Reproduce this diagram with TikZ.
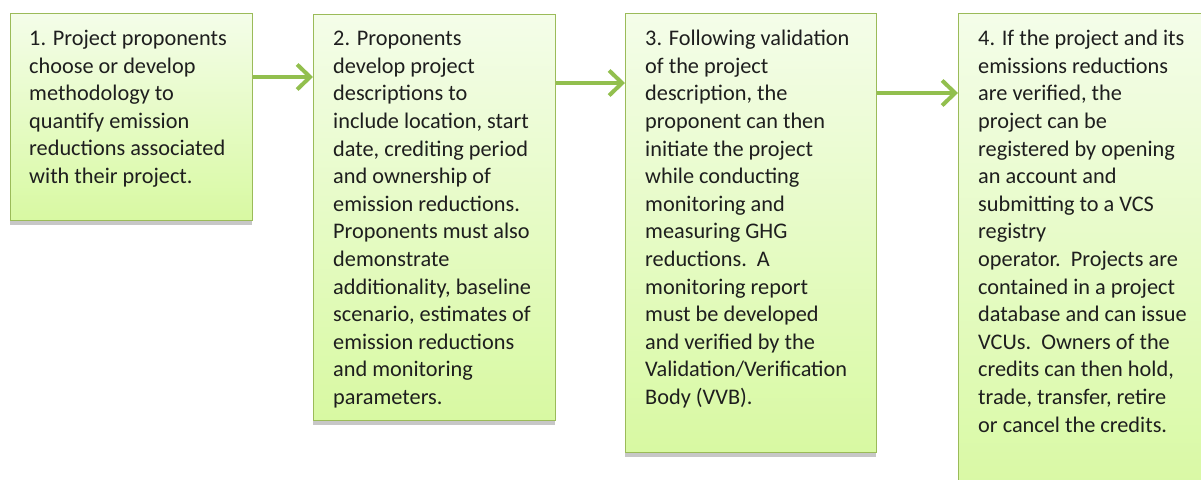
\documentclass[tikz,border=0pt]{standalone}
\usepackage{fontspec}
\setmainfont{Carlito}
\usetikzlibrary{arrows.meta,shadows}
\definecolor{boxedge}{HTML}{9BBB59}
\definecolor{boxtop}{HTML}{F4FDE9}
\definecolor{boxbot}{HTML}{D8F9A2}
\definecolor{arrowgreen}{HTML}{92BF4E}
\definecolor{inktext}{HTML}{1E1E1E}
\tikzset{
  stepbox/.style={draw=boxedge, line width=1.4pt, top color=boxtop, bottom color=boxbot,
    anchor=north west, inner sep=0pt,
    drop shadow={shadow xshift=-1pt, shadow yshift=-4pt, fill=black!22, opacity=1}},
  steptext/.style={anchor=north west, align=left, inner sep=0pt, text=inktext,
    font=\fontsize{22.3}{27.6}\selectfont},
  flow/.style={draw=arrowgreen, line width=4pt,
    -{Straight Barb[length=13pt,width=25pt,line width=4pt]}}
}
\begin{document}
\begin{tikzpicture}[x=1pt,y=-1pt]
\useasboundingbox (0,0) rectangle (1201,479);
\clip (0,0) rectangle (1201,479);

% the four steps
\node[stepbox, minimum width=242pt, minimum height=207pt] (b1) at (10,13) {};
\node[stepbox, minimum width=242pt, minimum height=406pt] (b2) at (313,14) {};
\node[stepbox, minimum width=251pt, minimum height=439pt] (b3) at (625,13) {};
\node[stepbox, minimum width=260pt, minimum height=490pt] (b4) at (958,13) {};

\node[steptext] (t1) at ([xshift=19pt,yshift=-17pt]b1.north west) {1. Project proponents\\
choose or develop\\
methodology to\\
quantify emission\\
reductions associated\\
with their project.};

\node[steptext] (t2) at ([xshift=20pt,yshift=-17pt]b2.north west) {2. Proponents\\
develop project\\
descriptions to\\
include location, start\\
date, crediting period\\
and ownership of\\
emission reductions.\\
Proponents must also\\
demonstrate\\
additionality, baseline\\
scenario, estimates of\\
emission reductions\\
and monitoring\\
parameters.};

\node[steptext] (t3) at ([xshift=20pt,yshift=-17pt]b3.north west) {3. Following validation\\
of the project\\
description, the\\
proponent can then\\
initiate the project\\
while conducting\\
monitoring and\\
measuring GHG\\
reductions.\ \ A\\
monitoring report\\
must be developed\\
and verified by the\\
Validation/Verification\\
Body (VVB).};

\node[steptext] (t4) at ([xshift=20pt,yshift=-17pt]b4.north west) {4. If the project and its\\
emissions reductions\\
are verified, the\\
project can be\\
registered by opening\\
an account and\\
submitting to a VCS\\
registry\\
operator.\ \ Projects are\\
contained in a project\\
database and can issue\\
VCUs.\ \ Owners of the\\
credits can then hold,\\
trade, transfer, retire\\
or cancel the credits.};

% connectors between the steps
\draw[flow] (b1.east |- 0,77) -- (b2.west |- 0,77);
\draw[flow] (b2.east |- 0,83) -- (b3.west |- 0,83);
\draw[flow] (b3.east |- 0,93) -- (b4.west |- 0,93);
\end{tikzpicture}
\end{document}
